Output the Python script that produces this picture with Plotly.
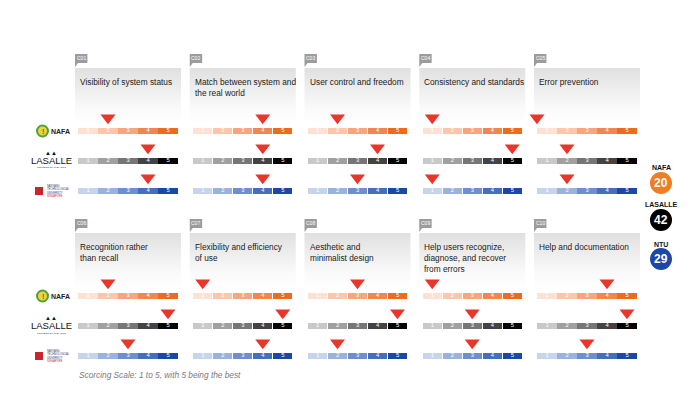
import plotly.graph_objects as go

# ---------------- data ----------------
criteria_codes = ["C01", "C02", "C03", "C04", "C05", "C06", "C07", "C08", "C09", "C10"]
criteria_titles = [
    "Visibility of system status",
    "Match between system and<br>the real world",
    "User control and freedom",
    "Consistency and standards",
    "Error prevention",
    "Recognition rather<br>than recall",
    "Flexibility and efficiency<br>of use",
    "Aesthetic and<br>minimalist design",
    "Help users recognize,<br>diagnose, and recover<br>from errors",
    "Help and documentation",
]
schools = ["NAFA", "LASALLE", "NTU"]
nafa_scores = [2, 4, 2, 1, 0, 2, 1, 3, 1, 4]
lasalle_scores = [4, 4, 4, 5, 2, 5, 5, 5, 3, 5]
ntu_scores = [4, 4, 3, 1, 2, 3, 4, 2, 3, 3]
scale_levels = [1, 2, 3, 4, 5]
scale_note = "Scorcing Scale: 1 to 5, with 5 being the best"

# ---------------- styles ----------------
W, H = 700, 394
FONT = "Liberation Sans, Arial, Helvetica, sans-serif"
school_scores = {"NAFA": nafa_scores, "LASALLE": lasalle_scores, "NTU": ntu_scores}
school_rows = {"NAFA": 2, "LASALLE": 1, "NTU": 0}
school_palettes = {
    "NAFA": ["#fde2d4", "#fbc6aa", "#f7a57e", "#f2864f", "#ee6a1f"],
    "LASALLE": ["#c9c9c9", "#a0a0a0", "#767676", "#434343", "#050505"],
    "NTU": ["#c6d4ec", "#9cb2de", "#6f8ecd", "#4470bb", "#1b48a6"],
}
total_colors = {"NAFA": "#f07d22", "LASALLE": "#000000", "NTU": "#1b48a6"}
ARROW = "#e8362b"

fig = go.Figure()
layout_axes = {}
annotations = []
shapes = []


def pxx(x):
    return x / W


def pxy(y):
    return 1 - y / H


def note(x, y, text, size, color, family=FONT, xanchor="center", yanchor="middle", align="center"):
    annotations.append(dict(x=pxx(x), y=pxy(y), xref="paper", yref="paper", text=text,
                            showarrow=False, xanchor=xanchor, yanchor=yanchor, align=align,
                            font=dict(family=family, size=size, color=color)))


for i, code in enumerate(criteria_codes):
    r, c = divmod(i, 5)
    n = i + 1
    xs = "x" if n == 1 else f"x{n}"
    ys = "y" if n == 1 else f"y{n}"
    x0 = 78 + 114.75 * c
    off = 165 * r
    layout_axes["xaxis" if n == 1 else f"xaxis{n}"] = dict(
        domain=[pxx(x0 - 4), pxx(x0 + 104)], range=[0.3, 5.7],
        visible=False, fixedrange=True, anchor=ys)
    layout_axes["yaxis" if n == 1 else f"yaxis{n}"] = dict(
        domain=[pxy(200 + off), pxy(50 + off)], range=[-0.3, 4.7],
        visible=False, fixedrange=True, anchor=xs)

    # gradient title box
    fig.add_trace(go.Scatter(
        x=[0.35, 5.65, 5.65, 0.35, 0.35], y=[2.2, 2.2, 4.1, 4.1, 2.2],
        fill="toself", mode="lines", line=dict(width=0),
        fillgradient=dict(type="vertical",
                          colorscale=[[0, "#ffffff"], [0.3, "#fafafa"], [1, "#e0e0e0"]]),
        xaxis=xs, yaxis=ys, showlegend=False, hoverinfo="skip"))

    # tag
    fig.add_trace(go.Scatter(
        x=[0.35, 0.97, 0.97, 0.5, 0.35, 0.35], y=[4.57, 4.57, 4.27, 4.27, 4.13, 4.57],
        fill="toself", mode="lines", line=dict(width=0), fillcolor="#9c9c9c",
        xaxis=xs, yaxis=ys, showlegend=False, hoverinfo="skip"))
    annotations.append(dict(x=0.66, y=4.42, xref=xs, yref=ys, text=code, showarrow=False,
                            xanchor="center", yanchor="middle",
                            font=dict(family=FONT, size=5, color="white")))

    # title
    annotations.append(dict(x=0.5, y=3.88, xref=xs, yref=ys, text=criteria_titles[i],
                            showarrow=False, xanchor="left", yanchor="top", align="left",
                            font=dict(family=FONT, size=8.3, color="#1a1a1a")))

    for s in schools:
        row = school_rows[s]
        fig.add_trace(go.Bar(
            x=scale_levels, y=[0.22] * 5, base=[row - 0.11] * 5, width=0.97,
            marker=dict(color=school_palettes[s], line=dict(width=0)),
            xaxis=xs, yaxis=ys, showlegend=False, hoverinfo="skip"))
        fig.add_trace(go.Scatter(
            x=scale_levels, y=[row] * 5, mode="text", text=[str(v) for v in scale_levels],
            textfont=dict(family=FONT, size=5.8, color="white"),
            xaxis=xs, yaxis=ys, showlegend=False, hoverinfo="skip"))
        score = school_scores[s][i]
        pos = score if score >= 1 else 0.5
        fig.add_trace(go.Scatter(
            x=[pos], y=[row + 0.44], mode="markers",
            marker=dict(symbol="triangle-down", size=13, color=ARROW, line=dict(width=0)),
            xaxis=xs, yaxis=ys, showlegend=False, hoverinfo="skip", cliponaxis=False))

# ---------------- school logos (text approximations) ----------------
for r in range(2):
    off = 165 * r
    # NAFA
    shapes.append(dict(type="circle", xref="paper", yref="paper",
                       x0=pxx(37), x1=pxx(48), y0=pxy(136.5 + off), y1=pxy(125.5 + off),
                       fillcolor="#f2d13a", line=dict(color="#4aa43a", width=2)))
    note(42.5, 131 + off, "<b>!</b>", 7, "#2f7d2a")
    note(49, 131 + off, "<b>NAFA</b>", 7, "#222222", xanchor="left")
    # LASALLE
    note(51, 153 + off, "▲▲", 6, "#111111")
    note(51, 160.5 + off, "LASALLE", 9.5, "#111111",
         family="Liberation Sans Narrow, Arial Narrow, sans-serif")
    note(51, 168 + off, "COLLEGE OF THE ARTS", 2.5, "#333333")
    # NTU
    shapes.append(dict(type="rect", xref="paper", yref="paper",
                       x0=pxx(35), x1=pxx(43), y0=pxy(195 + off), y1=pxy(187 + off),
                       fillcolor="#c8262c", line=dict(width=0)))
    note(45, 191 + off,
         "NANYANG<br>TECHNOLOGICAL<br>UNIVERSITY<br><span style='color:#c8262c'>SINGAPORE</span>",
         2.6, "#2b3a73", xanchor="left", align="left")

# ---------------- totals ----------------
label_y = {"NAFA": 167, "LASALLE": 205, "NTU": 244}
circle_y = {"NAFA": 183, "LASALLE": 220, "NTU": 259}
for s in schools:
    total = sum(school_scores[s])
    note(661, label_y[s], f"<b>{s}</b>", 7, "#111111")
    shapes.append(dict(type="circle", xref="paper", yref="paper",
                       x0=pxx(650), x1=pxx(672), y0=pxy(circle_y[s] + 11), y1=pxy(circle_y[s] - 11),
                       fillcolor=total_colors[s], line=dict(width=0)))
    note(661, circle_y[s], f"<b>{total}</b>", 12, "white")

note(77, 375, f"<i>{scale_note}</i>", 8.3, "#7a7a7a", xanchor="left")

fig.update_layout(
    width=W, height=H, margin=dict(l=0, r=0, t=0, b=0),
    paper_bgcolor="white", plot_bgcolor="rgba(0,0,0,0)",
    barmode="overlay", bargap=0, showlegend=False,
    annotations=annotations, shapes=shapes, **layout_axes)

fig.write_html("out.html", config={"displayModeBar": False, "staticPlot": True},
               post_script="document.body.style.margin='0';")
